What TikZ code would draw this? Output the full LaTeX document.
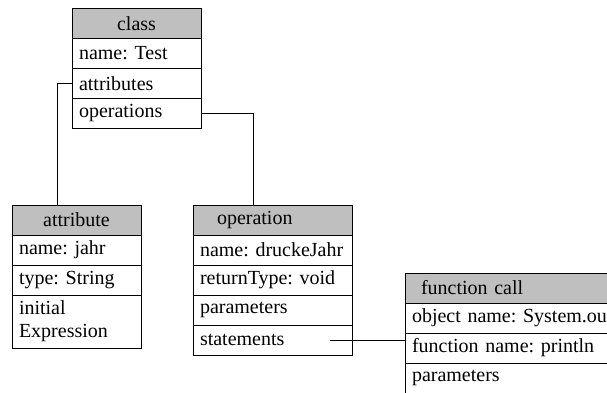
\documentclass[tikz,border=0pt]{standalone}
\usepackage{fontspec}
\setmainfont{Liberation Serif}
\usetikzlibrary{positioning}

\begin{document}
\begin{tikzpicture}[x=1pt, y=-1pt,
		every node/.style={font=\fontsize{20}{23}\selectfont\frenchspacing},
		cell/.style={draw, line width=0.9pt, outer sep=0pt, inner xsep=7pt, inner ysep=0pt,
			minimum height=30pt, text width=#1, align=left},
		head/.style={cell=#1, fill=black!25, align=center},
		link/.style={line width=0.9pt}]

	\useasboundingbox (0, 0) rectangle (607, 392);
	\clip (0, 0) rectangle (607, 392);

	% class
	\node[head=115pt, anchor=north west] (cls) at (72, 8.5) {class};
		\node[cell=115pt, below=0pt of cls] (clsname) {name: Test};
		\node[cell=115pt, below=0pt of clsname] (clsattr) {attributes};
		\node[cell=115pt, below=0pt of clsattr] (clsops) {operations};

	% attribute
	\node[head=115pt, anchor=north west] (attr) at (12, 205) {attribute};
		\node[cell=115pt, below=0pt of attr] (attrname) {name: jahr};
		\node[cell=115pt, below=0pt of attrname] (attrtype) {type: String};
		\node[cell=115pt, below=0pt of attrtype, minimum height=53pt] (attrinit) {initial\\Expression};

	% operation
	\node[head=111pt, inner xsep=24pt, align=left, anchor=north west] (op) at (193, 205) {operation};
		\node[cell=145pt, below=0pt of op] (opname) {name: druckeJahr};
		\node[cell=145pt, below=0pt of opname] (opret) {returnType: void};
		\node[cell=145pt, below=0pt of opret] (oppar) {parameters};
		\node[cell=145pt, below=0pt of oppar] (opstmt) {statements};

	% function call
	\node[head=183pt, inner xsep=16pt, align=left, anchor=north west] (fc) at (405, 273) {function call};
		\node[cell=201pt, below=0pt of fc] (fcobj) {object name: System.out};
		\node[cell=201pt, below=0pt of fcobj] (fcfname) {function name: println};
		\node[cell=201pt, below=0pt of fcfname] (fcpar) {parameters};

	\draw[link] (clsattr.west) -| ([xshift=-19.5pt]attr.north);
	\draw[link] (clsops.east) -| ([xshift=-19pt]op.north);
	\draw[link] ([xshift=57.5pt]opstmt.center) -- (opstmt.center -| fcfname.west);

\end{tikzpicture}
\end{document}
